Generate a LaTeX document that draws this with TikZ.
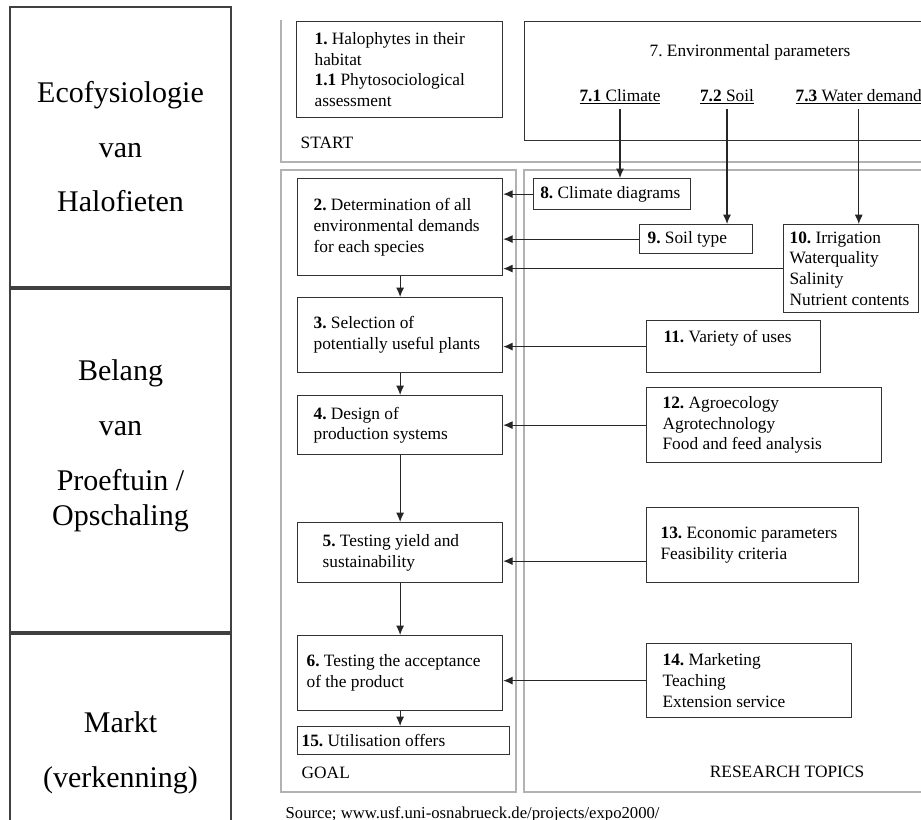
\documentclass[tikz,border=0pt]{standalone}
\usepackage{fontspec}
\setmainfont{Liberation Serif}
\usetikzlibrary{arrows.meta}
\frenchspacing

\begin{document}
\begin{tikzpicture}[x=0.75pt, y=-0.75pt,
    box/.style={draw=black!80, line width=0.9pt, anchor=north west, align=flush left,
        inner ysep=2pt, font=\fontsize{13}{15.5}\selectfont},
    graybox/.style={draw=black!30, line width=1.2pt},
    side/.style={draw=black!75, line width=1.3pt},
    sidetext/.style={anchor=base, font=\fontsize{22.5}{26}\selectfont},
    txt/.style={font=\fontsize{13}{15.5}\selectfont},
    link/.style={-{Latex[length=7pt,width=6pt]}, draw=black!85, line width=0.8pt}]
    \clip (0,0) rectangle (921,820);
    % Left column
    \draw[side] (10,7) rectangle (231,287);
    \draw[side] (10,289) rectangle (231,632);
    \draw[side] (10,634) rectangle (231,840);
    \node[sidetext] (eco1) at (120.5,103) {Ecofysiologie};
    \node[sidetext] (eco2) at (120.5,158) {van};
    \node[sidetext] (eco3) at (120.5,212) {Halofieten};
    \node[sidetext] (bel1) at (120.5,380) {Belang};
    \node[sidetext] (bel2) at (120.5,435) {van};
    \node[sidetext] (bel3) at (120.5,490) {Proeftuin /};
    \node[sidetext] (bel4) at (120.5,525) {Opschaling};
    \node[sidetext] (mar1) at (120.5,732) {Markt};
    \node[sidetext] (mar2) at (120.5,787) {(verkenning)};
    % Gray frames
    \draw[graybox] (281,20) -- (281,162) -- (930,162);
    \draw[graybox] (281,170) rectangle (516,792);
    \draw[graybox] (930,170) -- (524,170) -- (524,792) -- (930,792);
    % Start
    \node[box, text width=127.5pt, inner xsep=13.5pt, minimum height=72pt] (n1) at (296,21)
        {\textbf{1.} Halophytes in their\\habitat\\\textbf{1.1} Phytosociological\\assessment};
    \node[draw=black!80, line width=0.9pt, anchor=north west, inner sep=0pt,
        minimum width=327pt, minimum height=89.25pt] (n7) at (524,21) {};
    \node[txt] (n7t) at (750,52) {7. Environmental parameters};
    \node[txt] (c71) at (620,97) {\underline{\textbf{7.1} Climate}};
    \node[txt] (c72) at (727,97) {\underline{\textbf{7.2} Soil}};
    \node[txt, anchor=west] (c73) at (791,97) {\underline{\textbf{7.3} Water demand}};
    \node[txt, anchor=west] (start) at (296,143) {START};
    % Goal column
    \node[box, text width=129.75pt, inner xsep=12pt, minimum height=72.75pt] (n2) at (297,178)
        {\textbf{2.} Determination of all\\environmental demands\\for each species};
    \node[box, text width=129.75pt, inner xsep=12pt, minimum height=56.25pt] (n3) at (297,297)
        {\textbf{3.} Selection of\\potentially useful plants};
    \node[box, text width=129.75pt, inner xsep=12pt, minimum height=44.25pt] (n4) at (297,395)
        {\textbf{4.} Design of\\production systems};
    \node[box, text width=116.25pt, inner xsep=18.75pt, minimum height=45pt] (n5) at (297,522)
        {\textbf{5.} Testing yield and\\sustainability};
    \node[box, text width=140.25pt, inner xsep=6.75pt, minimum height=56.25pt] (n6) at (297,635)
        {\textbf{6.} Testing the acceptance\\of the product};
    \node[box, text width=153pt, inner xsep=3pt, minimum height=21pt] (n15) at (297,726)
        {\textbf{15.} Utilisation offers};
    \node[txt, anchor=west] (goal) at (297,773) {GOAL};
    % Research topics column
    \node[box, text width=107.75pt, inner xsep=5pt, minimum height=23.25pt] (n8) at (533,178)
        {\textbf{8.} Climate diagrams};
    \node[box, text width=72.75pt, inner xsep=6pt, minimum height=21.75pt] (n9) at (639,224)
        {\textbf{9.} Soil type};
    \node[box, text width=92.25pt, inner xsep=4.5pt, minimum height=66pt] (n10) at (783,224)
        {\textbf{10.} Irrigation\\Waterquality\\Salinity\\Nutrient contents};
    \node[box, text width=105pt, inner xsep=12.75pt, minimum height=39pt] (n11) at (646,320)
        {\textbf{11.} Variety of uses\\\mbox{}};
    \node[box, text width=152.25pt, inner xsep=12pt, minimum height=56.25pt] (n12) at (646,387)
        {\textbf{12.} Agroecology\\Agrotechnology\\Food and feed analysis};
    \node[box, text width=138pt, inner xsep=10.5pt, minimum height=56.25pt] (n13) at (646,507)
        {\textbf{13.} Economic parameters\\Feasibility criteria};
    \node[box, text width=129.75pt, inner xsep=12pt, minimum height=55.5pt] (n14) at (646,643)
        {\textbf{14.} Marketing\\Teaching\\Extension service};
    \node[txt] (topics) at (787,772) {RESEARCH TOPICS};
    % Arrows from the parameters
    \draw[link] (c71.south) -- (c71.south |- n8.north);
    \draw[link] (c72.south) -- (c72.south |- n9.north);
    \draw[link] (c73.south) -- (c73.south |- n10.north);
    % Arrows into the goal column
    \draw[link] (n8.west) -- (n8.west -| n2.east);
    \draw[link] (n9.west) -- (n9.west -| n2.east);
    \draw[link] (n10.west) -- (n10.west -| n2.east);
    \draw[link] (n11.west) -- (n11.west -| n3.east);
    \draw[link] (n12.west) -- (n12.west -| n4.east);
    \coordinate (a13) at ([yshift=-12pt]n13.west);
    \draw[link] (a13) -- (a13 -| n5.east);
    \draw[link] (n14.west) -- (n14.west -| n6.east);
    % Goal chain
    \draw[link] (n2.south) -- (n3.north);
    \draw[link] (n3.south) -- (n4.north);
    \draw[link] (n4.south) -- (n5.north);
    \draw[link] (n5.south) -- (n6.north);
    \draw[link] (n6.south) -- (n6.south |- n15.north);
    % Source
    \node[anchor=base west, font=\fontsize{12.5}{15}\selectfont] (src) at (281,818)
        {Source; www.usf.uni-osnabrueck.de/projects/expo2000/};
\end{tikzpicture}
\end{document}
